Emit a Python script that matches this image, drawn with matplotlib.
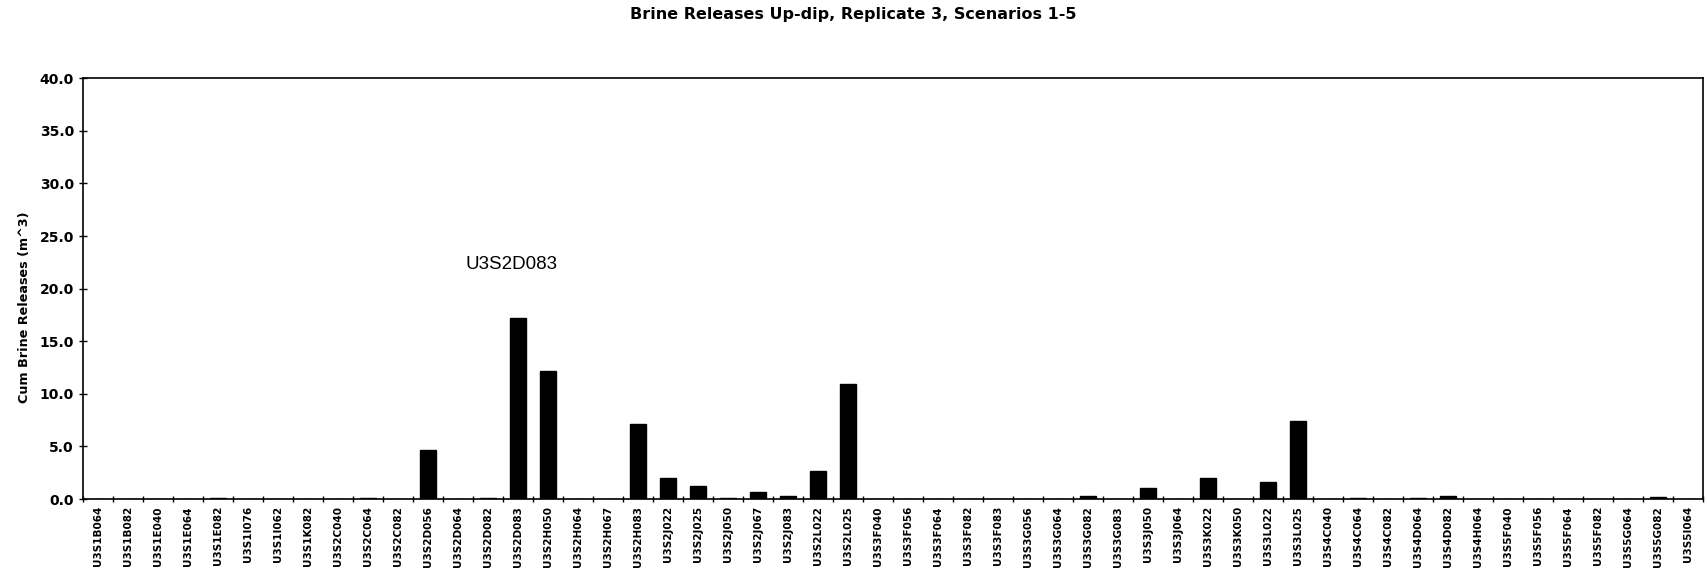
import numpy as np
import matplotlib
matplotlib.use('Agg')
import matplotlib.pyplot as plt

plt.rcParams['font.family'] = ['DejaVu Sans']

# scenario labels
labels = ['U3S1B064', 'U3S1B082', 'U3S1E040', 'U3S1E064', 'U3S1E082', 'U3S1I076',
          'U3S1I062', 'U3S1K082', 'U3S2C040', 'U3S2C064', 'U3S2C082', 'U3S2D056',
          'U3S2D064', 'U3S2D082', 'U3S2D083', 'U3S2H050', 'U3S2H064', 'U3S2H067',
          'U3S2H083', 'U3S2J022', 'U3S2J025', 'U3S2J050', 'U3S2J067', 'U3S2J083',
          'U3S2L022', 'U3S2L025', 'U3S3F040', 'U3S3F056', 'U3S3F064', 'U3S3F082',
          'U3S3F083', 'U3S3G056', 'U3S3G064', 'U3S3G082', 'U3S3G083', 'U3S3J050',
          'U3S3J064', 'U3S3K022', 'U3S3K050', 'U3S3L022', 'U3S3L025', 'U3S4C040',
          'U3S4C064', 'U3S4C082', 'U3S4D064', 'U3S4D082', 'U3S4H064', 'U3S5F040',
          'U3S5F056', 'U3S5F064', 'U3S5F082', 'U3S5G064', 'U3S5G082', 'U3S5I064']

# cumulative brine releases (m^3)
releases = [0.02, 0.02, 0.03, 0.02, 0.15, 0.05,
            0.02, 0.02, 0.02, 0.08, 0.02, 4.7,
            0.02, 0.1, 17.2, 12.2, 0.02, 0.05,
            7.1, 2.0, 1.2, 0.1, 0.7, 0.3,
            2.7, 10.9, 0.02, 0.02, 0.03, 0.05,
            0.02, 0.02, 0.02, 0.25, 0.02, 1.1,
            0.02, 2.0, 0.02, 1.6, 7.4, 0.02,
            0.1, 0.02, 0.1, 0.3, 0.02, 0.02,
            0.02, 0.02, 0.05, 0.02, 0.2, 0.02]

highlight = 'U3S2D083'

fig = plt.figure(figsize=(17.07, 5.75), dpi=100)
ax = fig.add_axes([0.0486, 0.132, 0.9491, 0.732])

x = np.arange(len(labels))
ax.bar(x, releases, width=0.52, color='black', edgecolor='black')

ax.set_xlim(-0.5, len(labels) - 0.5)
ax.set_ylim(0, 40)
ax.set_yticks(np.arange(0, 40.1, 5))
ax.set_yticklabels([f'{v:.1f}' for v in np.arange(0, 40.1, 5)], fontsize=10, fontweight='bold')
ax.tick_params(axis='y', direction='inout', length=6, width=1)

ax.set_xticks(x)
ax.set_xticklabels(labels, rotation=90, fontsize=7.5, fontweight='bold')
ax.tick_params(axis='x', which='major', length=0, pad=5)
ax.set_xticks(np.arange(-0.5, len(labels), 1), minor=True)
ax.tick_params(axis='x', which='minor', direction='inout', length=5, width=1)

for s in ax.spines.values():
    s.set_linewidth(1.2)

ax.set_ylabel('Cum Brine Releases (m^3)', fontsize=9.2, fontweight='bold')
ax.yaxis.set_label_coords(-0.032, 0.456)
fig.suptitle('Brine Releases Up-dip, Replicate 3, Scenarios 1-5', y=0.988,
             fontsize=11.5, fontweight='bold')

i = labels.index(highlight)
ax.text(x[i] - 0.2, 21.5, highlight, ha='center', va='bottom', fontsize=13.5,
        family='Liberation Sans')

fig.savefig('out.png', dpi=100)
